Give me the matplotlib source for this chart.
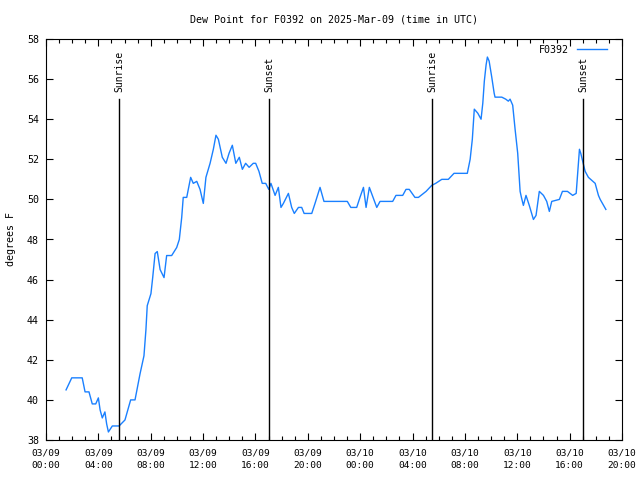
import pandas as pd
import matplotlib
matplotlib.use("Agg")
import matplotlib.pyplot as plt
import matplotlib.dates as mdates

# dew point readings, station F0392 (UTC)
times = [
    "03-09 01:32", "03-09 01:58", "03-09 02:46", "03-09 02:59", "03-09 03:17", "03-09 03:32",
    "03-09 03:48", "03-09 04:00", "03-09 04:08", "03-09 04:18", "03-09 04:30", "03-09 04:38",
    "03-09 04:46", "03-09 05:04", "03-09 05:35", "03-09 06:02", "03-09 06:28", "03-09 06:48",
    "03-09 07:11", "03-09 07:29", "03-09 07:38", "03-09 07:44", "03-09 08:01", "03-09 08:09",
    "03-09 08:20", "03-09 08:30", "03-09 08:43", "03-09 09:01", "03-09 09:13", "03-09 09:36",
    "03-09 09:59", "03-09 10:11", "03-09 10:22", "03-09 10:29", "03-09 10:45", "03-09 11:03",
    "03-09 11:15", "03-09 11:31", "03-09 11:46", "03-09 12:01", "03-09 12:13", "03-09 12:32",
    "03-09 12:47", "03-09 12:59", "03-09 13:10", "03-09 13:28", "03-09 13:45", "03-09 13:59",
    "03-09 14:14", "03-09 14:30", "03-09 14:46", "03-09 15:00", "03-09 15:15", "03-09 15:31",
    "03-09 15:50", "03-09 16:01", "03-09 16:16", "03-09 16:31", "03-09 16:47", "03-09 17:01",
    "03-09 17:11", "03-09 17:30", "03-09 17:45", "03-09 17:57", "03-09 18:08", "03-09 18:31",
    "03-09 18:46", "03-09 18:58", "03-09 19:17", "03-09 19:32", "03-09 19:43", "03-09 20:18",
    "03-09 20:33", "03-09 20:56", "03-09 21:14", "03-09 23:01", "03-09 23:17", "03-09 23:44",
    "03-09 23:59", "03-10 00:15", "03-10 00:27", "03-10 00:42", "03-10 01:16", "03-10 01:31",
    "03-10 02:29", "03-10 02:44", "03-10 03:15", "03-10 03:30", "03-10 03:45", "03-10 04:11",
    "03-10 04:27", "03-10 05:02", "03-10 05:28", "03-10 05:46", "03-10 06:14", "03-10 06:44",
    "03-10 07:10", "03-10 08:11", "03-10 08:24", "03-10 08:34", "03-10 08:43", "03-10 08:59",
    "03-10 09:14", "03-10 09:22", "03-10 09:29", "03-10 09:37", "03-10 09:43", "03-10 09:51",
    "03-10 10:03", "03-10 10:14", "03-10 10:18", "03-10 10:49", "03-10 11:07", "03-10 11:19",
    "03-10 11:27", "03-10 11:39", "03-10 11:50", "03-10 12:02", "03-10 12:13", "03-10 12:19",
    "03-10 12:28", "03-10 12:40", "03-10 12:55", "03-10 13:14", "03-10 13:26", "03-10 13:41",
    "03-10 14:00", "03-10 14:15", "03-10 14:27", "03-10 14:38", "03-10 15:13", "03-10 15:27",
    "03-10 15:50", "03-10 16:14", "03-10 16:30", "03-10 16:40", "03-10 16:45", "03-10 16:51",
    "03-10 17:00", "03-10 17:11", "03-10 17:26", "03-10 17:57", "03-10 18:12", "03-10 18:20",
    "03-10 18:46",
]
dewpoint = [
    40.5, 41.1, 41.1, 40.4, 40.4, 39.8, 39.8, 40.1, 39.5, 39.1, 39.4, 38.8,
    38.4, 38.7, 38.7, 39.0, 40.0, 40.0, 41.3, 42.2, 43.5, 44.7, 45.3, 46.1,
    47.3, 47.4, 46.5, 46.1, 47.2, 47.2, 47.6, 48.0, 49.1, 50.1, 50.1, 51.1,
    50.8, 50.9, 50.5, 49.8, 51.1, 51.8, 52.5, 53.2, 53.0, 52.1, 51.8, 52.3,
    52.7, 51.8, 52.1, 51.5, 51.8, 51.6, 51.8, 51.8, 51.4, 50.8, 50.8, 50.5,
    50.8, 50.2, 50.6, 49.6, 49.8, 50.3, 49.6, 49.3, 49.6, 49.6, 49.3, 49.3,
    49.8, 50.6, 49.9, 49.9, 49.6, 49.6, 50.1, 50.6, 49.6, 50.6, 49.6, 49.9,
    49.9, 50.2, 50.2, 50.5, 50.5, 50.1, 50.1, 50.4, 50.7, 50.8, 51.0, 51.0,
    51.3, 51.3, 52.0, 53.0, 54.5, 54.3, 54.0, 54.8, 55.9, 56.7, 57.1, 56.9,
    56.1, 55.3, 55.1, 55.1, 55.0, 54.9, 55.0, 54.7, 53.5, 52.3, 50.4, 50.1,
    49.7, 50.2, 49.7, 49.0, 49.2, 50.4, 50.2, 49.9, 49.4, 49.9, 50.0, 50.4,
    50.4, 50.2, 50.3, 51.8, 52.5, 52.3, 51.9, 51.4, 51.1, 50.8, 50.2, 50.0,
    49.5,
]

sun_times = ["03-09 05:35", "03-09 17:02", "03-10 05:29", "03-10 17:01"]
sun_labels = ["Sunrise", "Sunset", "Sunrise", "Sunset"]

t = pd.to_datetime(["2025-" + s for s in times])
sun_t = pd.to_datetime(["2025-" + s for s in sun_times])

plt.rcParams["font.family"] = "DejaVu Sans Mono"
plt.rcParams["font.size"] = 7.2

fig = plt.figure(figsize=(6.4, 4.8), dpi=100)
ax = fig.add_axes([46/640, 40/480, 576/640, 401/480])

ax.plot(t, dewpoint, color="#1a80ff", lw=1, label="F0392")

for st, lab in zip(sun_t, sun_labels):
    ax.plot([st, st], [38, 55.0], color="black", lw=1)
    ax.text(st, 55.35, lab, rotation=90, ha="center", va="bottom", fontsize=7)

ax.set_xlim(pd.Timestamp("2025-03-09 00:00"), pd.Timestamp("2025-03-10 20:00"))
ax.set_ylim(38, 58)
ax.set_yticks(range(38, 59, 2))
ax.xaxis.set_major_locator(mdates.HourLocator(byhour=range(0, 24, 4)))
ax.xaxis.set_minor_locator(mdates.HourLocator())
ax.xaxis.set_major_formatter(mdates.DateFormatter("%m/%d\n%H:%M"))
ax.tick_params(which="both", direction="in", top=True, right=True, width=0.8)
ax.tick_params(which="major", length=5, pad=5)
ax.tick_params(axis="x", which="major", labelsize=6.8, pad=6)
ax.tick_params(axis="y", labelsize=7.2)
ax.tick_params(which="minor", length=3)
for lbl in ax.get_xticklabels():
    lbl.set_linespacing(1.5)
for s in ax.spines.values():
    s.set_linewidth(0.8)

ax.set_title("Dew Point for F0392 on 2025-Mar-09 (time in UTC)", fontsize=7.2, pad=12)
ax.set_ylabel("degrees F", labelpad=8)
ax.legend(loc="upper right", bbox_to_anchor=(1 - 9/576, 1.0), frameon=False,
          markerfirst=False, handlelength=3, borderaxespad=0.2, handletextpad=0.8)

fig.savefig("out.png", dpi=100)
